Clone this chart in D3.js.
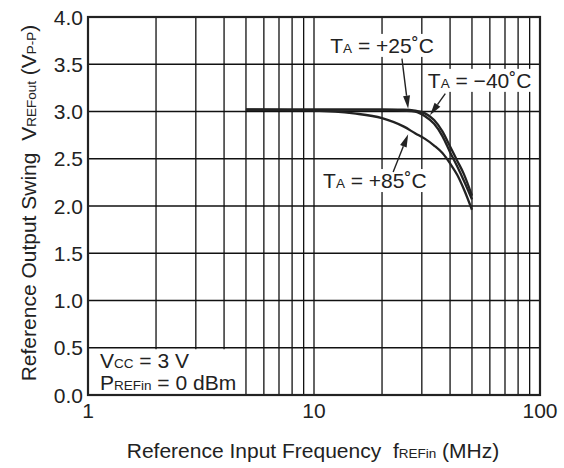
<!DOCTYPE html>
<html>
<head>
<meta charset="utf-8">
<script src="https://cdn.jsdelivr.net/npm/d3@7"></script>
<style>
    body { margin: 0; background: #fff; }
    text { font-family: "Liberation Sans", Arial, sans-serif; fill: #222; white-space: pre; }
</style>
</head>
<body>
<svg id="chart" width="564" height="468"></svg>
<script>
let width = 564;
let height = 468;
let margin = {top: 17, right: 24, bottom: 73, left: 88};
let fontSize = 21;
let smallSize = 13.5;

// frequency points (MHz) shared by all three curves
const freqs = [5, 10, 15, 20, 25, 28, 31, 34, 37, 40, 43, 46, 50];
const swingM40 = [3.02, 3.02, 3.02, 3.02, 3.02, 3.01, 2.98, 2.91, 2.79, 2.63, 2.48, 2.34, 2.11];
const swing25 = [3.02, 3.02, 3.02, 3.02, 3.01, 3.00, 2.95, 2.87, 2.74, 2.57, 2.42, 2.27, 2.07];
const swing85 = [3.02, 3.01, 2.98, 2.93, 2.84, 2.77, 2.71, 2.64, 2.56, 2.45, 2.33, 2.18, 1.96];

const xTickLabels = [1, 10, 100];
const xGrid = [1, 2, 3, 4, 5, 6, 7, 8, 9, 10, 20, 30, 40, 50, 60, 70, 80, 90, 100];
const yTicks = [0, 0.5, 1, 1.5, 2, 2.5, 3, 3.5, 4];

// label: [freq, volts] of text start, arrow tail -> tip
const annotations = [
    {t: "T", sub: "A", rest: " = +25˚C", at: [11.8, 3.62], tail: [24.5, 3.56], tip: [26.1, 3.03]},
    {t: "T", sub: "A", rest: " = −40˚C", at: [31.9, 3.25], tail: [38.1, 3.19], tip: [32.6, 2.96]},
    {t: "T", sub: "A", rest: " = +85˚C", at: [10.97, 2.19], tail: [22.4, 2.36], tip: [26.1, 2.76]}
];

const svg = d3.select("#chart");

const x = d3.scaleLog().domain([1, 100]).range([margin.left, width - margin.right]);
const y = d3.scaleLinear().domain([0, 4]).range([height - margin.bottom, margin.top]);

// grid
svg.append("g")
    .selectAll("line")
    .data(xGrid)
    .join("line")
    .attr("x1", d => x(d)).attr("x2", d => x(d))
    .attr("y1", y(0)).attr("y2", y(4))
    .attr("stroke", "#111").attr("stroke-width", 1.3);

svg.append("g")
    .selectAll("line")
    .data(yTicks)
    .join("line")
    .attr("x1", x(1)).attr("x2", x(100))
    .attr("y1", d => y(d)).attr("y2", d => y(d))
    .attr("stroke", "#111").attr("stroke-width", 1.3);

// curves
const lineGen = d3.line()
    .x((d, i) => x(freqs[i]))
    .y(d => y(d))
    .curve(d3.curveMonotoneX);

svg.append("g")
    .selectAll("path")
    .data([swingM40, swing25, swing85])
    .join("path")
    .attr("d", d => lineGen(d))
    .attr("fill", "none")
    .attr("stroke", "#222")
    .attr("stroke-width", 2.3);

// text with small letters sitting on the baseline
const richText = (g, parts) => {
    let t = g.append("text").attr("font-size", fontSize);
    parts.forEach(p => {
        t.append("tspan").attr("font-size", p.small ? smallSize : fontSize).text(p.s);
    });
    return t;
};

const whiteBox = (g, textSel, padX, padY) => {
    let bb = textSel.node().getBBox();
    g.insert("rect", "text")
        .attr("x", bb.x - padX).attr("y", bb.y - padY)
        .attr("width", bb.width + padX * 2).attr("height", bb.height + padY * 2)
        .attr("fill", "#fff");
};

// annotations
annotations.forEach(a => {
    let g = svg.append("g");
    let t = richText(g, [{s: a.t}, {s: a.sub, small: true}, {s: a.rest}])
        .attr("x", x(a.at[0])).attr("y", y(a.at[1]));
    whiteBox(g, t, 3, 0);

    let x1 = x(a.tail[0]), y1 = y(a.tail[1]), x2 = x(a.tip[0]), y2 = y(a.tip[1]);
    let ang = Math.atan2(y2 - y1, x2 - x1);
    let len = 13, half = 3.5;
    let bx = x2 - len * Math.cos(ang), by = y2 - len * Math.sin(ang);
    g.append("line")
        .attr("x1", x1).attr("y1", y1).attr("x2", bx).attr("y2", by)
        .attr("stroke", "#222").attr("stroke-width", 1.4);
    g.append("path")
        .attr("d", `M${x2},${y2}L${bx + half * Math.sin(ang)},${by - half * Math.cos(ang)}L${bx - half * Math.sin(ang)},${by + half * Math.cos(ang)}Z`)
        .attr("fill", "#222");
});

// conditions box
let cond = svg.append("g");
let c1 = richText(cond, [{s: "V"}, {s: "CC", small: true}, {s: " = 3 V"}])
    .attr("x", x(1) + 12).attr("y", y(0) - 27);
let c2 = richText(cond, [{s: "P"}, {s: "REFin", small: true}, {s: " = 0 dBm"}])
    .attr("x", x(1) + 12).attr("y", y(0) - 5);
let bb1 = c1.node().getBBox(), bb2 = c2.node().getBBox();
cond.insert("rect", "text")
    .attr("x", x(1)).attr("y", y(0.5) + 1.5)
    .attr("width", Math.max(bb1.x + bb1.width, bb2.x + bb2.width) + 3 - x(1))
    .attr("height", y(0) - y(0.5) - 1.5)
    .attr("fill", "#fff");

// frame
svg.append("rect")
    .attr("x", x(1)).attr("y", y(4))
    .attr("width", x(100) - x(1)).attr("height", y(0) - y(4))
    .attr("fill", "none").attr("stroke", "#222").attr("stroke-width", 2.2);

// tick labels
svg.append("g")
    .selectAll("text")
    .data(xTickLabels)
    .join("text")
    .attr("x", d => x(d)).attr("y", y(0) + 23)
    .attr("text-anchor", "middle")
    .attr("font-size", fontSize)
    .text(d => d);

svg.append("g")
    .selectAll("text")
    .data(yTicks)
    .join("text")
    .attr("x", x(1) - 5).attr("y", d => y(d) + 7.5)
    .attr("text-anchor", "end")
    .attr("font-size", fontSize)
    .text(d => d3.format(".1f")(d));

// axis titles
richText(svg, [{s: "Reference Input Frequency  f"}, {s: "REFin", small: true}, {s: " (MHz)"}])
    .attr("x", 313).attr("y", 458)
    .attr("text-anchor", "middle");

richText(svg, [{s: "Reference Output Swing  V"}, {s: "REFout", small: true}, {s: " (V"}, {s: "P-P", small: true}, {s: ")"}])
    .attr("text-anchor", "middle")
    .attr("transform", "translate(36, 203) rotate(-90)");
</script>
</body>
</html>
